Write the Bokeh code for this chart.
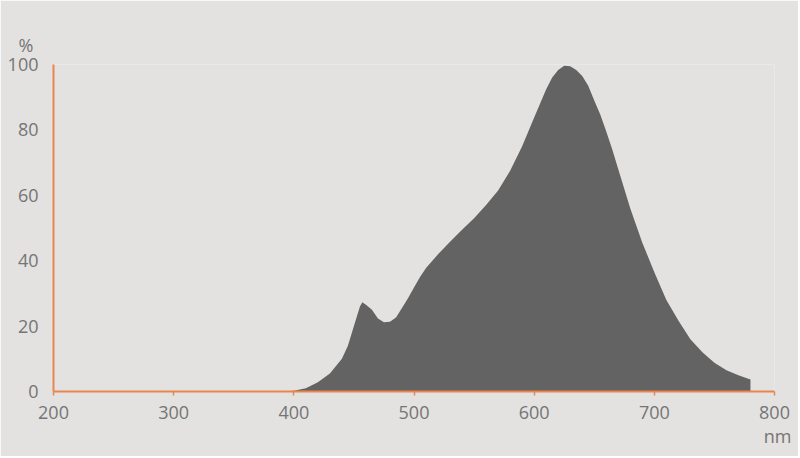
from bokeh.plotting import figure
from bokeh.models import Range1d, Title, FixedTicker
from bokeh.embed import file_html
from bokeh.resources import INLINE

wavelength_nm = [380, 390, 400, 410, 420, 430, 440, 445, 450, 455, 457, 460, 465, 470, 475,
                 480, 485, 490, 495, 500, 505, 510, 520, 530, 540, 550, 560, 570, 580, 590,
                 600, 610, 615, 620, 625, 630, 635, 640, 645, 650, 655, 660, 665, 670, 680,
                 690, 700, 710, 720, 730, 740, 750, 760, 770, 780]
intensity_pct = [0, 0, 0.2, 1.0, 2.8, 5.5, 10, 14, 20, 26, 27.3, 26.5, 25, 22.3, 21.2,
                 21.3, 22.6, 25.5, 28.5, 31.8, 35, 37.8, 42, 45.8, 49.5, 53, 57, 61.5, 67.5, 75,
                 83.8, 92.4, 96, 98.3, 99.6, 99.5, 98.3, 96.5, 93.5, 89, 84.7, 79.5, 74, 68, 56,
                 45.5, 36.5, 28, 21.7, 16, 12, 8.8, 6.5, 5, 3.7]
x_ticks = [200, 300, 400, 500, 600, 700, 800]
y_ticks = [0, 20, 40, 60, 80, 100]

BG = "#E3E2E0"
AXIS = "#E8864F"
TXT = "#757575"
FONT = "Open Sans"

p = figure(width=798, height=456, output_backend="svg", toolbar_location=None,
           x_range=Range1d(200, 800), y_range=Range1d(0, 100),
           min_border_left=53, min_border_right=24, min_border_top=64, min_border_bottom=65)
p.background_fill_color = BG
p.border_fill_color = BG
p.outline_line_color = None
p.grid.visible = False

p.varea(x=wavelength_nm, y1=0, y2=intensity_pct, fill_color="#636363", fill_alpha=1)

p.xaxis.ticker = FixedTicker(ticks=x_ticks)
p.yaxis.ticker = FixedTicker(ticks=y_ticks)
for ax in (p.xaxis[0], p.yaxis[0]):
    ax.axis_line_color = AXIS
    ax.axis_line_width = 2
    ax.major_tick_line_color = AXIS
    ax.major_tick_line_width = 1.5
    ax.minor_tick_line_color = None
    ax.major_label_text_color = TXT
    ax.major_label_text_font = FONT
    ax.major_label_text_font_size = "18px"
p.xaxis.major_tick_out = 4
p.xaxis.major_tick_in = 0
p.xaxis.major_label_standoff = 10
p.yaxis.major_tick_line_color = None
p.yaxis.major_tick_out = 0
p.yaxis.major_tick_in = 0
p.yaxis.major_label_standoff = 15

p.add_layout(Title(text="%", align="left", offset=-35, standoff=15,
                   text_color=TXT, text_font=FONT, text_font_size="18px",
                   text_font_style="normal"), "above")
p.add_layout(Title(text="nm", align="right", offset=-17, standoff=0,
                   text_color=TXT, text_font=FONT, text_font_size="18px",
                   text_font_style="normal"), "below")

open("out.html", "w").write(file_html(p, INLINE))
